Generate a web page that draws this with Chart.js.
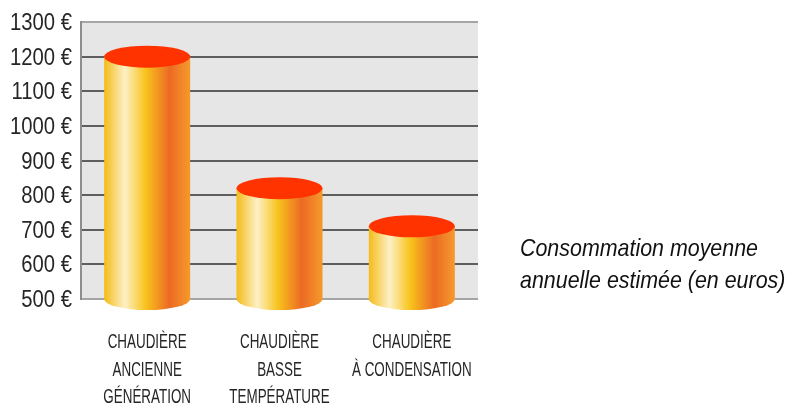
<!DOCTYPE html>
<html lang="fr">
<head>
<meta charset="UTF-8">
<title>Consommation moyenne annuelle</title>
<script src="https://cdn.jsdelivr.net/npm/chart.js@4.4.1/dist/chart.umd.min.js"></script>
<style>
  body { margin: 0; background: #fff; }
  .wrap { position: relative; width: 796px; height: 408px; }
  .note {
    position: absolute; left: 520px; top: 232px;
    font: italic 24px/32px "Liberation Sans", Arial, sans-serif;
    color: #111; white-space: nowrap; transform-origin: 0 0;
  }
</style>
</head>
<body>
<div class="wrap">
  <canvas id="myChart" width="796" height="408"></canvas>
  <div class="note" id="note"><span id="noteLine">Consommation moyenne</span><br>annuelle estimée (en euros)</div>
</div>
<script>
// data
const categories = [
  ["CHAUDIÈRE", "ANCIENNE", "GÉNÉRATION"],
  ["CHAUDIÈRE", "BASSE", "TEMPÉRATURE"],
  ["CHAUDIÈRE", "À CONDENSATION"]
];
const consommation = [1200, 820, 710];
const yTicks = [500, 600, 700, 800, 900, 1000, 1100, 1200, 1300];

const labelFont = '"Liberation Sans", Arial, sans-serif';

// grey plot background
const plotBg = {
  id: 'plotBg',
  beforeDraw(chart) {
    const { ctx, chartArea: a } = chart;
    ctx.save();
    ctx.fillStyle = '#e6e6e6';
    ctx.fillRect(a.left, a.top, a.right - a.left, a.bottom - a.top);
    ctx.restore();
  }
};

// draw every bar as a cylinder
const cylinders = {
  id: 'cylinders',
  afterDatasetsDraw(chart) {
    const ctx = chart.ctx;
    const ys = chart.scales.y;
    const base = ys.getPixelForValue(ys.min);
    const ry = 11;
    chart.getDatasetMeta(0).data.forEach(bar => {
      const { x, y, width } = bar.getProps(['x', 'y', 'width'], true);
      const l = x - width / 2, r = x + width / 2, rx = width / 2;
      const g = ctx.createLinearGradient(l, 0, r, 0);
      g.addColorStop(0, '#f4bb18');
      g.addColorStop(0.24, '#fdf0c6');
      g.addColorStop(0.48, '#f8c41c');
      g.addColorStop(0.76, '#ec6a24');
      g.addColorStop(1, '#f59a2c');
      ctx.save();
      ctx.beginPath();
      ctx.moveTo(l, y);
      ctx.lineTo(l, base);
      ctx.ellipse(x, base, rx, ry, 0, Math.PI, 0, true);
      ctx.lineTo(r, y);
      ctx.closePath();
      ctx.fillStyle = g;
      ctx.fill();
      ctx.beginPath();
      ctx.ellipse(x, y, rx, ry, 0, 0, Math.PI * 2);
      ctx.fillStyle = '#ff3300';
      ctx.fill();
      ctx.restore();
    });
  }
};

// condensed tick labels (the original uses a very narrow face)
const narrowLabels = {
  id: 'narrowLabels',
  afterDraw(chart) {
    const ctx = chart.ctx;
    const xs = chart.scales.x, ys = chart.scales.y;
    ctx.save();
    ctx.fillStyle = '#262626';
    ctx.textBaseline = 'alphabetic';

    // y axis
    ctx.font = '23px ' + labelFont;
    ctx.textAlign = 'right';
    const sy = 62 / ctx.measureText('1300 €').width;
    ys.ticks.forEach((t, i) => {
      const py = ys.getPixelForTick(i);
      ctx.save();
      ctx.translate(chart.chartArea.left - 9, py + 8);
      ctx.scale(sy, 1);
      ctx.fillText(t.value + ' €', 0, 0);
      ctx.restore();
    });

    // x axis
    ctx.font = '20px ' + labelFont;
    ctx.textAlign = 'center';
    const sx = 79 / ctx.measureText('CHAUDIÈRE').width;
    chart.data.labels.forEach((lines, i) => {
      const px = xs.getPixelForTick(i);
      lines.forEach((txt, j) => {
        ctx.save();
        ctx.translate(px, xs.top + 49 + j * 27.5);
        ctx.scale(sx, 1);
        ctx.fillText(txt, 0, 0);
        ctx.restore();
      });
    });
    ctx.restore();
  }
};

new Chart(document.getElementById('myChart'), {
  type: 'bar',
  data: {
    labels: categories,
    datasets: [{
      data: consommation,
      base: yTicks[0],
      backgroundColor: 'rgba(0,0,0,0)',
      borderWidth: 0,
      barPercentage: 0.65,
      categoryPercentage: 1
    }]
  },
  options: {
    responsive: false,
    animation: false,
    layout: { padding: { top: 22, right: 318, left: 0, bottom: 0 } },
    plugins: { legend: { display: false }, tooltip: { enabled: false } },
    scales: {
      x: {
        grid: { display: false },
        border: { display: false },
        ticks: { display: false },
        afterFit(s) { s.height = 109; }
      },
      y: {
        min: 500,
        max: 1300,
        afterBuildTicks(s) { s.ticks = yTicks.map(v => ({ value: v })); },
        afterFit(s) { s.width = 81; },
        grid: {
          drawTicks: false,
          lineWidth: 2,
          color: c => (c.tick && (c.tick.value === 500 || c.tick.value === 1300)) ? '#a5a5a5' : '#5e5e5e'
        },
        border: { color: '#8e8e8e', width: 2 },
        ticks: { display: false }
      }
    }
  },
  plugins: [plotBg, cylinders, narrowLabels]
});

// squeeze the side note to the width it has in the original
const noteLine = document.getElementById('noteLine');
document.getElementById('note').style.transform = 'scaleX(' + (238 / noteLine.getBoundingClientRect().width) + ')';
</script>
</body>
</html>
